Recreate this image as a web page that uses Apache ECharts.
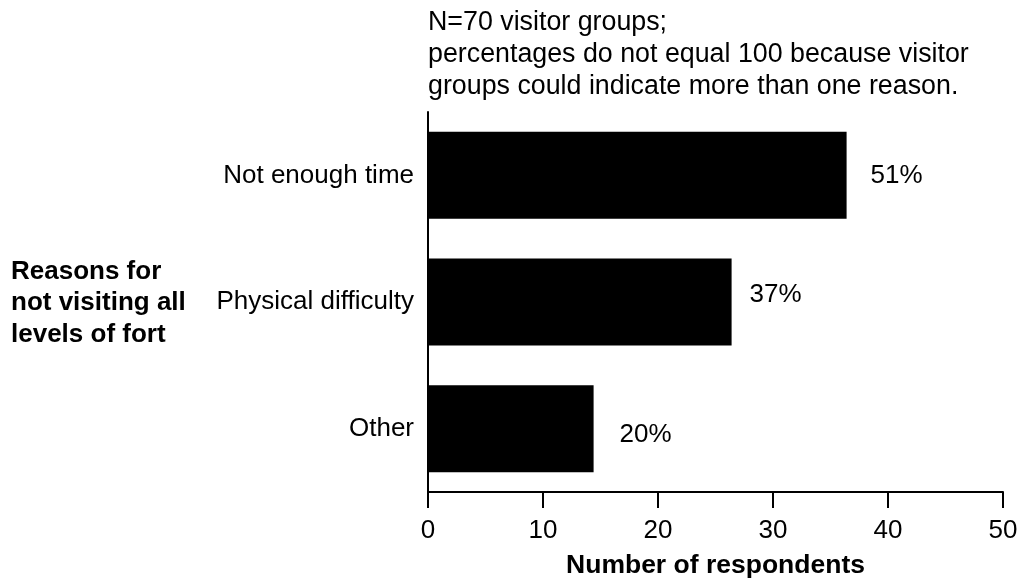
<!DOCTYPE html>
<html>
<head>
<meta charset="utf-8">
<script src="https://cdn.jsdelivr.net/npm/echarts@6/dist/echarts.min.js"></script>
<style>
html,body{margin:0;padding:0;background:#fff;}
#chart{width:1023px;height:584px;}
</style>
</head>
<body>
<div id="chart"></div>
<script>
const categories = ['Not enough time', 'Physical difficulty', 'Other'];
const respondents = [36.4, 26.4, 14.4];
const percentLabels = ['51%', '37%', '20%'];
const xTicks = [0, 10, 20, 30, 40, 50];
const noteText = 'N=70 visitor groups;\npercentages do not equal 100 because visitor\ngroups could indicate more than one reason.';
const yTitle = 'Reasons for\nnot visiting all\nlevels of fort';
const xTitle = 'Number of respondents';

const FONT = '"Liberation Sans", Arial, sans-serif';
const labelShifts = [[2, 0], [-4, -7], [4, 6]];

const chart = echarts.init(document.getElementById('chart'));
chart.setOption({
  backgroundColor: '#fff',
  animation: false,
  textStyle: { fontFamily: FONT, color: '#000' },
  title: [
    { text: noteText, left: 423, top: 2,
      textStyle: { fontFamily: FONT, fontSize: 26.8, fontWeight: 'normal', color: '#000', lineHeight: 32 } },
    { text: yTitle, left: 6, top: 251,
      textStyle: { fontFamily: FONT, fontSize: 26, fontWeight: 'bold', color: '#000', lineHeight: 31.5 } }
  ],
  grid: { left: 428, right: 20, top: 112, bottom: 89, containLabel: false },
  xAxis: {
    type: 'value', min: xTicks[0], max: xTicks[xTicks.length - 1], interval: 10,
    name: xTitle, nameLocation: 'middle', nameGap: 60,
    nameTextStyle: { fontFamily: FONT, fontSize: 26.5, fontWeight: 'bold', color: '#000' },
    axisLine: { show: true, lineStyle: { color: '#000', width: 2 } },
    axisTick: { show: true, length: 16, lineStyle: { color: '#000', width: 2 } },
    axisLabel: { margin: 26, fontSize: 26, color: '#000', fontFamily: FONT },
    splitLine: { show: false }
  },
  yAxis: {
    type: 'category', data: categories, inverse: true,
    axisLine: { show: true, lineStyle: { color: '#000', width: 2 } },
    axisTick: { show: false },
    axisLabel: { margin: 14, fontSize: 26, color: '#000', fontFamily: FONT },
    splitLine: { show: false }
  },
  series: [{
    type: 'bar',
    barWidth: 87,
    itemStyle: { color: '#000' },
    data: respondents.map((v, i) => ({
      value: v,
      label: {
        show: true, position: 'right', distance: 22,
        offset: labelShifts[i],
        formatter: percentLabels[i],
        fontSize: 26, color: '#000', fontFamily: FONT
      }
    }))
  }]
});
</script>
</body>
</html>
